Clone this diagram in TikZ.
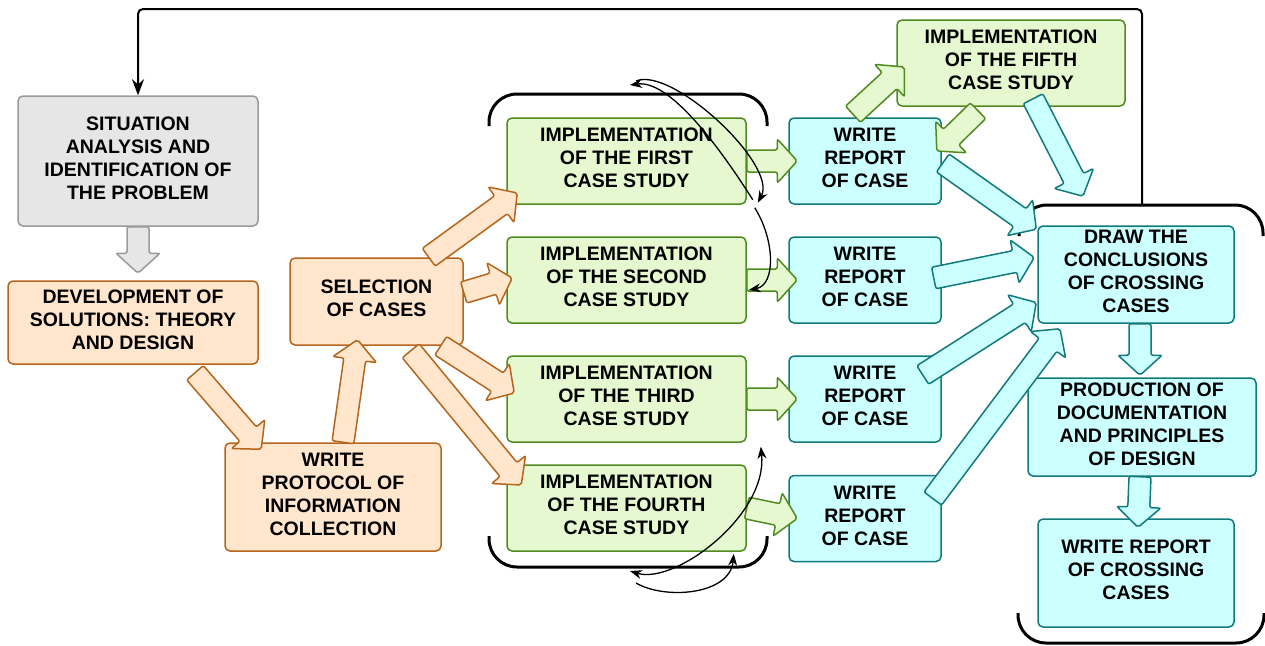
\documentclass[tikz,border=0pt]{standalone}
\usepackage{fontspec}
\setmainfont{Liberation Sans}
\usetikzlibrary{arrows.meta,calc}

\definecolor{grauF}{HTML}{E6E6E6}
\definecolor{grauR}{HTML}{9A9A9A}
\definecolor{orangeF}{HTML}{FFE6CC}
\definecolor{orangeR}{HTML}{B5651D}
\definecolor{gruenF}{HTML}{E6F8D0}
\definecolor{gruenR}{HTML}{4F8B1E}
\definecolor{tuerkisF}{HTML}{CCFFFF}
\definecolor{tuerkisR}{HTML}{117A7A}

% Blockpfeil: #1 Stil, #2 Start, #3 Spitze
\newcommand{\blockpfeil}[3]{%
  \coordinate (bpA) at (#2);
  \coordinate (bpB) at (#3);
  \coordinate (bpK) at ($(bpB)!20pt!(bpA)$);
  \filldraw[#1] ($(bpA)!11pt!90:(bpB)$) -- ($(bpK)!11pt!90:(bpB)$) -- ($(bpK)!22pt!90:(bpB)$)
    -- (bpB) -- ($(bpK)!22pt!-90:(bpB)$) -- ($(bpK)!11pt!-90:(bpB)$) -- ($(bpA)!11pt!-90:(bpB)$) -- cycle;}

\tikzset{
  kasten/.style={rounded corners=5pt, line width=1.5pt, align=center, inner sep=0pt,
    text depth=6pt, font=\fontsize{19.5}{23}\selectfont\bfseries},
  analyse/.style={kasten, draw=grauR, fill=grauF},
  entwurf/.style={kasten, draw=orangeR, fill=orangeF},
  studie/.style={kasten, draw=gruenR, fill=gruenF, minimum width=239pt, minimum height=86pt},
  bericht/.style={kasten, draw=tuerkisR, fill=tuerkisF},
  bpGrau/.style={draw=grauR, fill=grauF, line width=1.5pt, rounded corners=2pt},
  bpOrange/.style={draw=orangeR, fill=orangeF, line width=1.5pt, rounded corners=2pt},
  bpGruen/.style={draw=gruenR, fill=gruenF, line width=1.5pt, rounded corners=2pt},
  bpTuerkis/.style={draw=tuerkisR, fill=tuerkisF, line width=1.5pt, rounded corners=2pt},
  klammer/.style={line width=3pt, rounded corners=28pt},
  schleife/.style={line width=1.3pt}
}

\begin{document}
\begin{tikzpicture}[x=1pt,y=-1pt,>={Stealth[length=12pt,width=9pt]}]
  \useasboundingbox (0,0) rectangle (1265,645);
  % Klammern
  \draw[klammer] (489,126) |- (767,94) -- (767,126);
  \draw[klammer] (489,536) |- (767,567) -- (767,536);
  \draw[klammer] (1019,236) |- (1263,205) -- (1263,236);
  \draw[klammer] (1018,613) |- (1264,643) -- (1264,613);
  \coordinate (rk) at (1142,205);
  \coordinate (kO) at (630,85);
  \coordinate (kU) at (630,571);

  % Kaesten
  \node[analyse, minimum width=240pt, minimum height=130pt] (sit) at (138,161) {SITUATION\\ANALYSIS AND\\IDENTIFICATION OF\\THE PROBLEM};
  \node[entwurf, minimum width=250pt, minimum height=83pt] (dev) at (133,322.5) {DEVELOPMENT OF\\SOLUTIONS: THEORY\\AND DESIGN};
  \node[entwurf, minimum width=173pt, minimum height=87pt] (sel) at (376.5,301.5) {SELECTION\\OF CASES};
  \node[entwurf, minimum width=216pt, minimum height=108pt] (prot) at (333,497) {WRITE\\PROTOCOL OF\\INFORMATION\\COLLECTION};
  \foreach \i/\y/\nr in {1/161/FIRST,2/280/SECOND,3/399/THIRD,4/508/FOURTH}
    \node[studie] (imp\i) at (626.5,\y) {IMPLEMENTATION\\OF THE \nr\\CASE STUDY};
  \node[studie, minimum width=228pt] (imp5) at (1011,63) {IMPLEMENTATION\\OF THE FIFTH\\CASE STUDY};
  \foreach \i/\y in {1/161,2/280,3/399,4/518.5}
    \node[bericht, minimum width=152pt, minimum height=86pt] (rep\i) at (865,\y) {WRITE\\REPORT\\OF CASE};
  \node[bericht, minimum width=196pt, minimum height=97pt] (concl) at (1136,274.5) {DRAW THE\\CONCLUSIONS\\OF CROSSING\\CASES};
  \node[bericht, minimum width=228pt, minimum height=98pt] (prod) at (1142,427) {PRODUCTION OF\\DOCUMENTATION\\AND PRINCIPLES\\OF DESIGN};
  \node[bericht, minimum width=196pt, minimum height=108pt] (cross) at (1136,573) {WRITE REPORT\\OF CROSSING\\CASES};

  % Blockpfeile
  \blockpfeil{bpGrau}{sit.south}{$(dev.north)+(5,-7)$}
  \blockpfeil{bpOrange}{$(dev.south)+(62,8)$}{$(prot.north west)+(37,7)$}
  \blockpfeil{bpOrange}{$(prot.north)+(10,0)$}{$(sel.south)+(-19,-6)$}
  \blockpfeil{bpOrange}{$(sel.north east)+(-35,0)$}{$(imp1.west)+(11,32)$}
  \blockpfeil{bpOrange}{$(sel.east)+(0,-9)$}{$(imp2.west)+(6,-2)$}
  \blockpfeil{bpOrange}{$(sel.south east)+(-23,0)$}{$(imp3.west)+(8,-6)$}
  \blockpfeil{bpOrange}{$(sel.south east)+(-53,5)$}{$(imp4.west)+(15,-23)$}
  \foreach \i in {1,...,4} {
    \blockpfeil{bpGruen}{imp\i.east}{$(rep\i.west)+(9,0)$}
  }
  \blockpfeil{bpGruen}{$(rep1.north)+(-12,-3)$}{$(imp5.west)+(8,4)$}
  \blockpfeil{bpGruen}{$(imp5.south)+(-33,4)$}{$(rep1.east)+(-5,-10)$}
  \blockpfeil{bpTuerkis}{$(imp5.south)+(22,-8)$}{$(concl.north)+(-53,-29)$}
  \blockpfeil{bpTuerkis}{$(rep1.east)+(1,2)$}{$(concl.north west)+(-1,4)$}
  \blockpfeil{bpTuerkis}{$(rep2.east)+(-8,-2)$}{$(concl.west)+(-3,-17)$}
  \blockpfeil{bpTuerkis}{$(rep3.east)+(-19,-24)$}{$(concl.west)+(-1,28)$}
  \blockpfeil{bpTuerkis}{$(rep4.east)+(-9,-20)$}{$(concl.south)+(-76,5)$}
  \blockpfeil{bpTuerkis}{$(concl.south)+(4,0)$}{$(prod.north)+(-2,-2)$}
  \blockpfeil{bpTuerkis}{$(prod.south)+(-2,0)$}{$(cross.north)+(2,9)$}

  % Wiederholungen
  \draw[schleife,->] ($(imp1.south east)+(6,-5)$) .. controls (715,140) and (668,80) .. (kO);
  \draw[schleife,->] ($(kO)+(6,-4)$) .. controls (672,66) and (778,165) .. ($(imp1.south east)+(11,-2)$);
  \draw[schleife,->] ($(imp1.south east)+(8,3)$) .. controls (775,240) and (776,285) .. ($(imp2.east)+(2,10)$);
  \draw[schleife,<->] ($(imp3.south east)+(14,4)$) .. controls (768,515) and (675,585) .. (kU);
  \draw[schleife,->] ($(kU)+(6,12)$) .. controls (665,600) and (730,595) .. ($(imp4.south east)+(-13,2)$);

  % Rueckkopplung
  \draw[line width=2pt, rounded corners=5pt, -{Stealth[length=16pt,width=12pt]}] (rk) -- ++(0,-196) -| (sit.north);
\end{tikzpicture}
\end{document}
